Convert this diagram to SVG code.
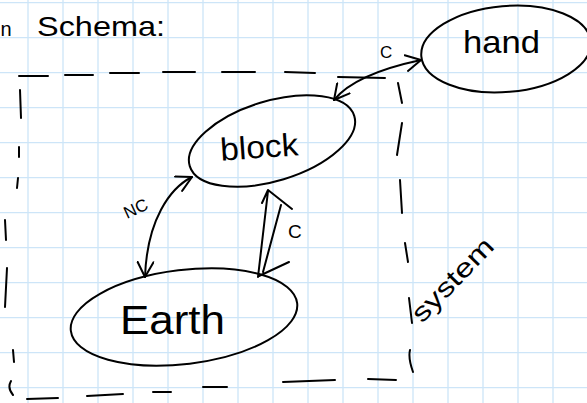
<svg xmlns="http://www.w3.org/2000/svg" width="587" height="403" viewBox="0 0 587 403">
<defs>
<style>
.grid line{stroke:#cde5f8;stroke-width:1.3}
.ink{fill:none;stroke:#000;stroke-width:2;stroke-linecap:round;stroke-linejoin:round}
.hw{font-family:"Liberation Sans","DejaVu Sans",sans-serif;fill:#000}
</style>
<marker id="ah" viewBox="0 0 18 18" refX="16" refY="9" markerWidth="18" markerHeight="18" markerUnits="userSpaceOnUse" orient="auto-start-reverse">
<path d="M1,1 L16,9 L1,17" fill="none" stroke="#000" stroke-width="2" stroke-linecap="round" stroke-linejoin="round"/>
</marker>
</defs>
<rect width="587" height="403" fill="#fff"/>
<g class="grid">
<line x1="28" y1="0" x2="28" y2="403"/><line x1="63" y1="0" x2="63" y2="403"/><line x1="98" y1="0" x2="98" y2="403"/><line x1="133" y1="0" x2="133" y2="403"/><line x1="168" y1="0" x2="168" y2="403"/><line x1="203" y1="0" x2="203" y2="403"/><line x1="238" y1="0" x2="238" y2="403"/><line x1="273" y1="0" x2="273" y2="403"/><line x1="308" y1="0" x2="308" y2="403"/><line x1="343" y1="0" x2="343" y2="403"/><line x1="378" y1="0" x2="378" y2="403"/><line x1="413" y1="0" x2="413" y2="403"/><line x1="448" y1="0" x2="448" y2="403"/><line x1="483" y1="0" x2="483" y2="403"/><line x1="518" y1="0" x2="518" y2="403"/><line x1="553" y1="0" x2="553" y2="403"/>
<line x1="0" y1="2.7" x2="587" y2="2.7"/><line x1="0" y1="37.7" x2="587" y2="37.7"/><line x1="0" y1="72.7" x2="587" y2="72.7"/><line x1="0" y1="107.7" x2="587" y2="107.7"/><line x1="0" y1="142.7" x2="587" y2="142.7"/><line x1="0" y1="177.7" x2="587" y2="177.7"/><line x1="0" y1="212.7" x2="587" y2="212.7"/><line x1="0" y1="247.7" x2="587" y2="247.7"/><line x1="0" y1="282.7" x2="587" y2="282.7"/><line x1="0" y1="317.7" x2="587" y2="317.7"/><line x1="0" y1="352.7" x2="587" y2="352.7"/><line x1="0" y1="387.7" x2="587" y2="387.7"/>
</g>
<g id="title">
<text class="hw" x="0.5" y="36" font-size="20">n</text>
<text class="hw" x="37" y="36" font-size="28" textLength="128" lengthAdjust="spacingAndGlyphs">Schema:</text>
</g>
<g id="system" class="ink">
<path d="M19,76 L48,76 M65,75 L93,75 M110,73 L139,73 M163,72 L195,72 M222,72 L255,72 M285,72 L315,73 M338,77 L385,78"/>
<path d="M398,83 L402,103 M402,123 L397,155 M400,180 L402,213 M405,243 L408,262 M409,298 L412,323 M410,350 Q408,358 413,372"/>
<path d="M20,90 L21,118 M19,147 L19,157 M18,178 L17,188 M5,220 L6,240 M7,268 L5,307 M13,350 L14,362 M11,381 Q7,388 13,395"/>
<path d="M27,399 L58,398 M87,396 L123,394 M153,392 L171,392 M203,387 L227,387 M283,382 L335,380 M368,379 L396,380"/>
<text class="hw" stroke="none" font-size="26" transform="translate(422,324) rotate(-46)" textLength="106" lengthAdjust="spacingAndGlyphs">system</text>
</g>
<g id="hand">
<ellipse class="ink" cx="506" cy="49" rx="85" ry="43" transform="rotate(-5 506 49)"/>
<text class="hw" x="463" y="53" font-size="32" textLength="77" lengthAdjust="spacingAndGlyphs">hand</text>
</g>
<g id="block">
<ellipse class="ink" cx="272" cy="141" rx="86" ry="40" transform="rotate(-17 272 141)"/>
<text class="hw" x="220" y="158" font-size="32" textLength="78" lengthAdjust="spacingAndGlyphs" transform="rotate(-4 259 145)">block</text>
</g>
<g id="earth">
<ellipse class="ink" cx="184" cy="317" rx="114" ry="47" transform="rotate(-7 184 317)"/>
<text class="hw" x="120" y="334" font-size="40" textLength="105" lengthAdjust="spacingAndGlyphs">Earth</text>
</g>
<g id="connectors" class="ink">
<path d="M421,60 Q355,74 334,100" marker-start="url(#ah)" marker-end="url(#ah)"/>
<path d="M192,177 C170,188 147,220 145,277" marker-start="url(#ah)" marker-end="url(#ah)"/>
<path d="M268,191 L258,277 M281,205 L263,272 M262,203 L268,190 L292,209 M289,262 L259,276"/>
<text class="hw" stroke="none" x="380" y="58" font-size="17">C</text>
<text class="hw" stroke="none" font-size="17" transform="translate(127,219) rotate(-25)">NC</text>
<text class="hw" stroke="none" x="288" y="238" font-size="19">C</text>
</g>
</svg>
